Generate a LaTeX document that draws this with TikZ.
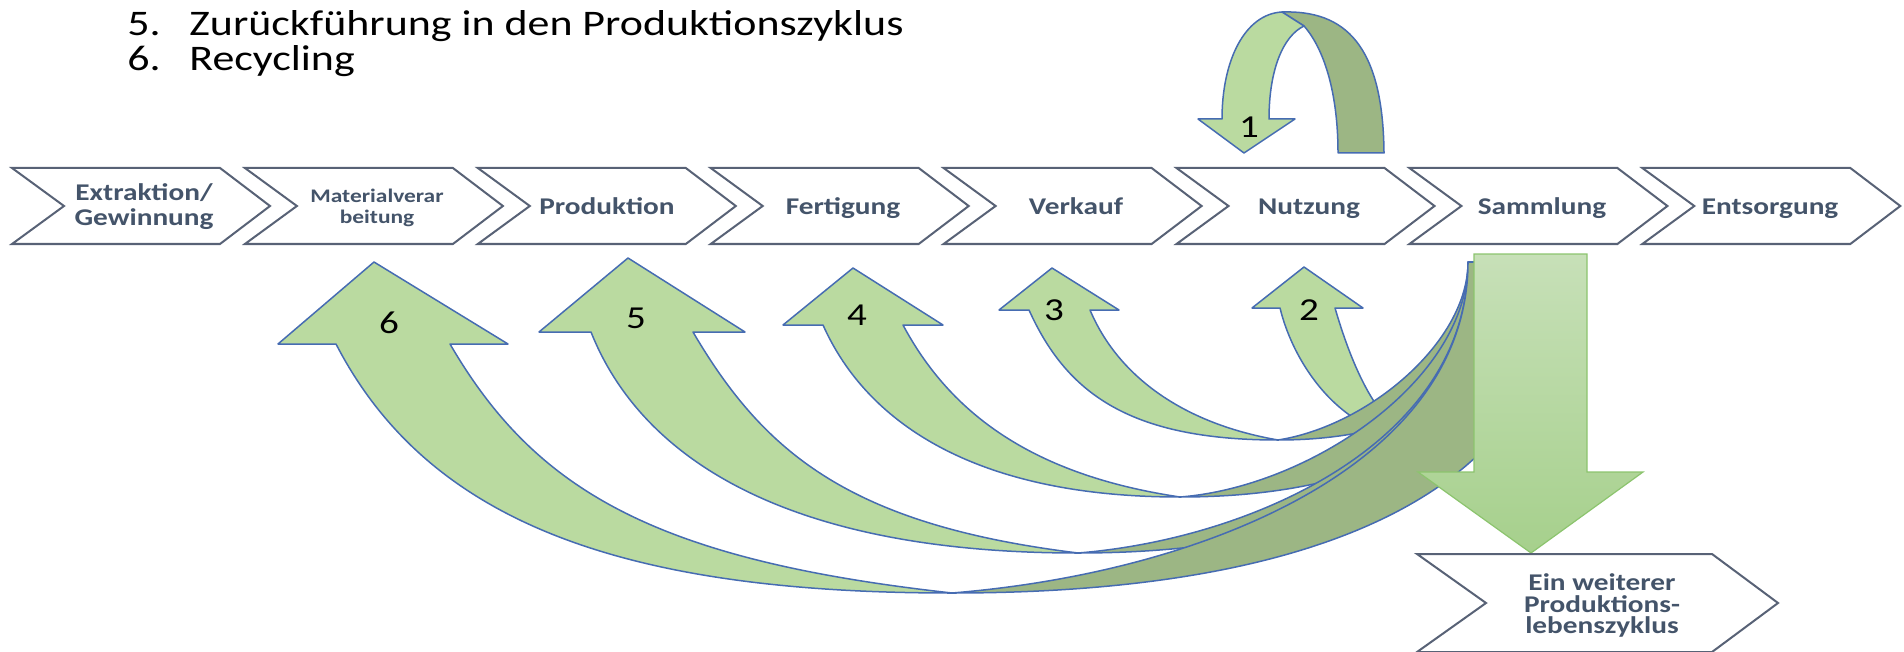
\documentclass[tikz,border=0pt]{standalone}
\usepackage{fontspec}
\setmainfont{Carlito}
\newfontfamily\calfont[FakeStretch=1.22]{Carlito}
\definecolor{lg}{RGB}{186,218,160}
\definecolor{dg}{RGB}{156,182,132}
\definecolor{ol}{RGB}{70,108,178}
\definecolor{chevline}{RGB}{88,98,118}
\definecolor{chevtext}{RGB}{68,84,106}
\definecolor{bigtop}{RGB}{199,224,184}
\definecolor{bigbot}{RGB}{166,208,140}
\definecolor{bigline}{RGB}{140,196,110}
\begin{document}
\begin{tikzpicture}[x=0.5pt,y=-0.5pt,
  chev/.style={draw=chevline, line width=1pt, fill=white, line join=miter},
  chevtxt/.style={text=chevtext, font=\calfont\bfseries\fontsize{12pt}{14pt}\selectfont, anchor=base, inner sep=0pt},
  smalltxt/.style={chevtxt, font=\calfont\bfseries\fontsize{9.6pt}{11pt}\selectfont},
  lband/.style={draw=ol, line width=0.75pt, fill=lg, line join=round},
  dband/.style={draw=ol, line width=0.75pt, fill=dg, line join=round},
  bigarrow/.style={draw=bigline, line width=0.6pt, top color=bigtop, bottom color=bigbot},
  num/.style={font=\calfont\fontsize{16pt}{18pt}\selectfont, anchor=base, inner sep=0pt},
  titletxt/.style={font=\calfont\fontsize{18pt}{20pt}\selectfont, anchor=base west, inner sep=0pt}]
\useasboundingbox (0,0) rectangle (1904,652);

% title lines
\node[titletxt] (n5) at (127,36) {5.};
\node[titletxt] (l5) at (189,36) {Zurückführung in den Produktionszyklus};
\node[titletxt] (n6) at (127,71) {6.};
\node[titletxt] (l6) at (189,71) {Recycling};

% chevron row
\foreach \i in {0,...,7}{
  \draw[chev] ({12+232.9*\i},168) -- ++(208,0) -- ++(50,38) -- ++(-50,38) -- ++(-208,0) -- ++(52,-38) -- cycle;
}
\node[chevtxt] (t1a) at (144,201) {Extraktion/};
\node[chevtxt] (t1b) at (144,226) {Gewinnung};
\node[smalltxt] (t2a) at (377,203) {Materialverar};
\node[smalltxt] (t2b) at (377,224) {beitung};
\node[chevtxt] (t3) at (607,214) {Produktion};
\node[chevtxt] (t4) at (843,214) {Fertigung};
\node[chevtxt] (t5) at (1076,214) {Verkauf};
\node[chevtxt] (t6) at (1309,214) {Nutzung};
\node[chevtxt] (t7) at (1542,214) {Sammlung};
\node[chevtxt] (t8) at (1770,214) {Entsorgung};

% arrow 1 (U-turn above Nutzung)
\draw[dband] (1282,12) .. controls (1345,10) and (1383,45) .. (1384,153) -- (1338,153)
  .. controls (1338,95) and (1325,50) .. (1304,26) -- cycle;
\draw[lband] (1222,119) .. controls (1222,60) and (1245,14) .. (1282,12) -- (1304,26)
  .. controls (1283,36) and (1269,70) .. (1269,119) -- (1295,119) -- (1244,153) -- (1198,119) -- cycle;

% arrow 2
\draw[dband] (1415,437) .. controls (1440,433) and (1468,340) .. (1468,262) -- (1510,262)
  .. controls (1510,370) and (1477,437) .. (1415,437) -- cycle;
\draw[lband] (1280,308) -- (1252,308) -- (1304,267) -- (1363,308) -- (1335,308)
  .. controls (1349.5,358) and (1376,427) .. (1415,437)
  .. controls (1345,437) and (1294.6,368) .. (1280,308) -- cycle;

% arrow 3
\draw[dband] (1278,440) .. controls (1368,426) and (1468,342) .. (1468,262) -- (1520,262)
  .. controls (1520,369) and (1435,440) .. (1278,440) -- cycle;
\draw[lband] (1029,310) -- (999,310) -- (1052,268) -- (1119,310) -- (1090,310)
  .. controls (1117,374) and (1180,423) .. (1278,440)
  .. controls (1128,440) and (1066,392) .. (1029,310) -- cycle;

% arrow 4
\draw[dband] (1180,497) .. controls (1310,487) and (1468,380) .. (1468,262) -- (1530,262)
  .. controls (1530,403) and (1407,497) .. (1180,497) -- cycle;
\draw[lband] (823,325) -- (783,325) -- (853,268) -- (943,325) -- (903,325)
  .. controls (950,413) and (1032,475) .. (1180,497)
  .. controls (980,497) and (868,426) .. (823,325) -- cycle;

% arrow 5
\draw[dband] (1078,553) .. controls (1253,539) and (1468,442) .. (1468,262) -- (1545,262)
  .. controls (1545,437) and (1382,553) .. (1078,553) -- cycle;
\draw[lband] (591,332) -- (539,332) -- (628,258) -- (745,332) -- (693,332)
  .. controls (764,453) and (850,525) .. (1078,553)
  .. controls (778,553) and (639,453) .. (591,332) -- cycle;

% arrow 6
\draw[dband] (952,593) .. controls (1210,572) and (1468,462) .. (1468,262) -- (1560,262)
  .. controls (1560,462) and (1372,593) .. (952,593) -- cycle;
\draw[lband] (336,344) -- (278,344) -- (374,262) -- (508,344) -- (450,344)
  .. controls (535,490) and (654,560) .. (952,593)
  .. controls (622,593) and (428,522) .. (336,344) -- cycle;

% numbers
\node[num] (k1) at (1249,138) {1};
\node[num] (k2) at (1309,320) {2};
\node[num] (k3) at (1054,320) {3};
\node[num] (k4) at (857,325) {4};
\node[num] (k5) at (636,328) {5};
\node[num] (k6) at (389,333) {6};

% big down arrow
\draw[bigarrow] (1474,254) -- (1587,254) -- (1587,472) -- (1643,472) -- (1531,553) -- (1418,472) -- (1474,472) -- cycle;

% further life cycle chevron
\draw[chev] (1417,554) -- (1712,554) -- (1778,603) -- (1712,652) -- (1417,652) -- (1486,603) -- cycle;
\node[chevtxt] (w1) at (1602,590) {Ein weiterer};
\node[chevtxt] (w2) at (1602,612) {Produktions-};
\node[chevtxt] (w3) at (1602,633) {lebenszyklus};
\end{tikzpicture}
\end{document}
